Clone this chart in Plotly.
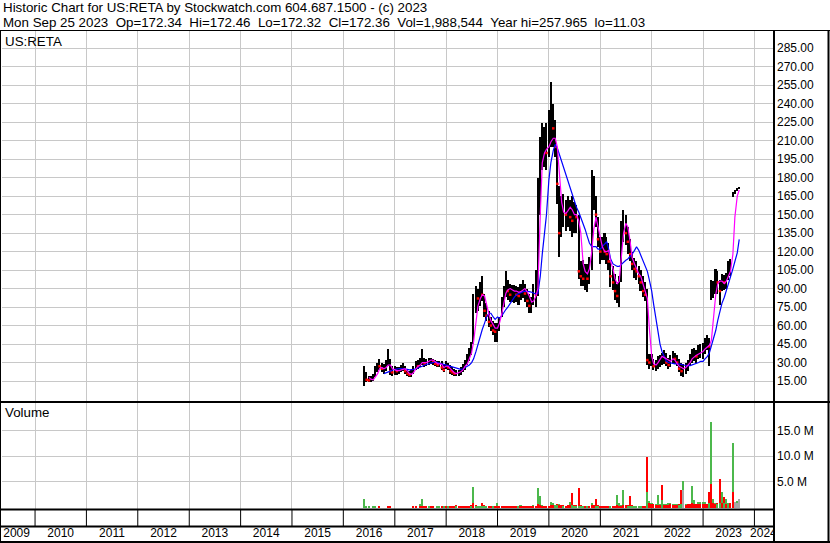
import pandas as pd
import plotly.graph_objects as go

W, H = 830, 543

# ---------------- data: semi-monthly bars (1st / 15th), Jun 2016 .. Sep 2023 ----------------
high_2016 = [27, 22, 19, 19, 21, 27, 30, 33, 30, 29, 32, 41, 33, 27]
low_2016 = [11, 14, 14, 14.5, 15, 18, 22, 24, 22, 21, 23, 27, 20, 19]
close_2016 = [17, 16, 15.5, 16, 19, 25, 28, 27, 25, 26, 30, 32, 23, 22]
maf_2016 = [None, None, 18, 16.5, 16, 18, 21, 25, 26, 25, 26, 28, 28, 25]
mas_2016 = [None, None, None, None, None, None, None, None, None, 21, 21.5, 22, 23, 24]

high_2017 = [27, 26, 26, 28, 30, 27, 25, 23, 24, 27, 31, 32, 34, 41, 34, 33, 34, 34, 33, 32, 31, 31, 31, 28]
low_2017 = [20, 20, 21, 22, 23, 21, 19, 18, 18, 21, 24, 25, 26, 28, 26, 27, 28, 29, 28, 27, 26, 26, 24, 22]
close_2017 = [24, 23, 24, 25, 26, 23, 21, 20, 22, 25, 28, 27, 31, 31, 29, 31, 31, 33, 31, 29, 28, 30, 26, 24]
maf_2017 = [24, 23.5, 23.5, 24, 25, 25, 23, 21, 20.5, 22, 25, 27, 28, 30, 30, 30, 31, 32, 32, 30.5, 29, 29, 28.5, 26]
mas_2017 = [24.5, 25, 25, 25, 25, 25, 24.5, 24, 24, 24.5, 25, 25.5, 26, 27, 28, 28.5, 29.5, 30, 30.5, 30.5, 30, 29.5, 29, 28.5]

high_2018 = [31, 30, 28, 26, 25, 24, 24, 26, 29, 32, 37, 42, 47, 86, 92, 90, 95, 100, 86, 78, 72, 67, 64, 62]
low_2018 = [25, 24, 21, 20, 19, 19, 19, 20, 22, 24, 28, 31, 36, 45, 70, 72, 76, 80, 67, 64, 59, 56, 52, 47]
close_2018 = [27, 26, 23, 22, 21, 21, 22, 24, 27, 30, 34, 39, 44, 80, 84, 82, 88, 85, 72, 68, 63, 60, 56, 55]
maf_2018 = [27, 27, 25, 23, 21.5, 21, 21.5, 22.5, 24, 27, 29, 33, 38, 47, 62, 76, 82, 85, 84, 76, 69, 64, 61, 58]
mas_2018 = [28, 27.5, 27, 26.5, 26, 25.5, 25, 24.5, 25, 26, 27, 28, 30, 33, 39, 45, 51, 57, 62, 67, 70, 70, 67, 65]

high_2019 = [62, 67, 83, 92, 104, 97, 94, 93, 93, 92, 91, 94, 97, 94, 90, 86, 83, 94, 105, 180, 213, 224, 221, 224]
low_2019 = [47, 56, 67, 75, 83, 81, 79, 79, 78, 79, 77, 81, 82, 79, 75, 70, 70, 77, 75, 84, 150, 186, 189, 186]
close_2019 = [55, 66, 78, 88, 95, 88, 85, 86, 88, 85, 84, 90, 92, 86, 80, 76, 78, 86, 85, 165, 200, 205, 210, 200]
maf_2019 = [58, 62, 70, 78, 86, 89, 90, 89, 88, 88, 87, 87.5, 89, 90, 87, 84, 79, 80, 84, 90, 150, 192, 200, 203]
mas_2019 = [67, 66, 68, 71, 73, 75, 78, 81, 83, 85, 86, 87, 87.5, 88, 88, 87.5, 87, 86, 85.5, 86, 100, 118, 133, 150]

high_2020 = [235, 258, 240, 227, 205, 173, 165, 167, 162, 165, 162, 165, 160, 158, 150, 112, 113, 110, 110, 116, 186, 181, 165, 148]
low_2020 = [197, 205, 205, 197, 159, 116, 132, 140, 137, 140, 137, 132, 135, 135, 98, 92, 92, 89, 87, 94, 105, 154, 140, 124]
close_2020 = [215, 230, 220, 205, 175, 135, 150, 155, 150, 155, 148, 145, 150, 148, 104, 100, 98, 100, 98, 110, 160, 165, 150, 130]
maf_2020 = [205, 209, 212, 212, 205, 185, 160, 152, 151, 153, 156, 154, 150, 150, 145, 135, 110, 104, 102, 106, 120, 138, 148, 140]
mas_2020 = [178, 192, 202, 207, 204, 199, 193, 187, 181, 176, 170, 165, 160, 156, 152, 148, 143, 138, 132, 127, 124, 124, 124, 122]

high_2021 = [132, 132, 135, 132, 127, 113, 108, 102, 94, 100, 145, 154, 150, 140, 130, 120, 115, 112, 108, 105, 100, 95, 90, 37]
low_2021 = [110, 113, 113, 110, 105, 91, 89, 81, 78, 75, 95, 128, 125, 118, 112, 105, 99, 97, 94, 88, 83, 80, 28, 25]
close_2021 = [120, 125, 120, 118, 112, 100, 95, 88, 84, 95, 138, 140, 135, 128, 118, 110, 106, 104, 100, 95, 88, 85, 32, 30]
maf_2021 = [132, 124, 120, 120, 121, 112, 106, 98, 94, 96, 118, 135, 143, 140, 128, 115, 110, 106, 102, 100, 94, 88, 82, 58]
mas_2021 = [122, 124, 126, 128, 122, 114, 110, 109, 108, 108, 110, 111, 113, 114, 116, 118, 121, 124, 121, 117, 112, 108, 104, 97]

high_2022 = [37, 33, 32, 35, 36, 38, 40, 38, 34, 36, 39, 38, 36, 33, 30, 29, 30, 32, 37, 41, 42, 40, 44, 45]
low_2022 = [27, 24, 23, 25, 26, 28, 29, 27, 25, 26, 29, 29, 27, 22, 19, 18, 21, 23, 27, 30, 31, 30, 33, 34]
close_2022 = [32, 27, 27, 30, 30, 33, 33, 30, 28, 32, 34, 33, 30, 25, 23, 24, 27, 28, 33, 36, 36, 35, 39, 40]
maf_2022 = [35, 29, 28, 30, 33, 35, 34, 33, 32, 31, 33, 32, 29, 27, 26, 25, 26, 28, 30, 33, 35, 36, 37, 38]
mas_2022 = [88, 77, 64, 53, 45, 39, 34, 31, 30, 29.5, 29, 29, 29, 29, 28.5, 28, 27.5, 27.5, 27.5, 28, 28.5, 29, 30, 31]

high_2023 = [46, 50, 52, 50, 97, 96, 106, 104, 97, 102, 101, 103, 112, 114, 168, 170, 172, 172.7]
low_2023 = [33, 37, 40, 27, 81, 82, 86, 86, 77, 88, 89, 90, 97, 100, 164, 167, 169, 171]
close_2023 = [40, 45, 47, 43, 88, 90, 100, 95, 88, 96, 95, 100, 108, 110, 166, 169, 171, 172.4]
maf_2023 = [39, 41, 43, 44, 48, 66, 85, 94, 96, 96, 94, 96, 100, 104, 118, 148, 165, 170]
mas_2023 = [31, 33, 35, 38, 43, 50, 56, 64, 71, 78, 83, 88, 94, 100, 106, 112, 119, 130]

# volume in millions: largest up-day, largest down-day and unchanged-day volume per period
vol_up_2016 = [1.6, 0.3, 0.2, 0, 0.2, 0.2, 0, 0, 0, 0, 0, 0, 0, 0]
vol_dn_2016 = [0, 0, 0, 0, 0, 0, 0, 0.25, 0, 0, 0, 0.3, 0.3, 0]
vol_up_2017 = [0, 0, 0, 0, 0, 0, 0, 0, 0, 0, 0, 0, 0.7, 1.7, 0, 0.3, 0.3, 0, 0, 0, 0.4, 0.3, 0.3, 0.2]
vol_dn_2017 = [0, 0, 0, 0, 0, 0, 0, 0, 0, 0.3, 0.3, 0, 0.2, 0.3, 0.4, 0.2, 0, 0.2, 0.2, 0, 0, 0.4, 0.3, 0.3]
vol_up_2018 = [0.3, 0.2, 0.3, 0.4, 0.3, 0.3, 0.3, 0.3, 0.4, 0.4, 0.3, 0.3, 0.3, 4.0, 0.3, 0.3, 0.3, 0.3, 0.3, 0.2, 0.3, 0.3, 0.3, 0.3]
vol_dn_2018 = [0.2, 0.3, 0.3, 0.2, 0.3, 0.5, 0.2, 0.3, 0.3, 0.3, 0.3, 0.3, 0.5, 1.0, 0.5, 0.4, 0.4, 0.9, 0.5, 0.4, 0.3, 0.3, 0.4, 0.3]
vol_up_2019 = [0.9, 0.3, 0.3, 0.4, 0.3, 0.4, 0.3, 0.3, 0.3, 0.3, 0.3, 0.5, 0.3, 0.3, 0.3, 0.3, 0.4, 0.5, 0.4, 3.8, 2.2, 0.5, 0.4, 0.4]
vol_dn_2019 = [0.3, 0.3, 0.3, 0.4, 0.3, 0.3, 0.3, 0.3, 0.3, 0.3, 0.4, 0.3, 0.3, 0.3, 0.3, 0.3, 0.3, 0.3, 0.3, 0.8, 0.6, 0.4, 0.3, 0.3]
vol_up_2020 = [0.4, 1.1, 1.0, 0.5, 0.6, 0.7, 0.5, 0.4, 0.4, 0.5, 1.2, 0.5, 0.4, 0.4, 0.4, 0.4, 0.3, 0.4, 0.3, 0.4, 1.0, 0.6, 0.4, 0.4]
vol_dn_2020 = [0.3, 0.6, 0.5, 0.6, 0.7, 0.6, 0.5, 0.5, 0.4, 0.5, 0.5, 2.8, 0.5, 0.5, 3.8, 0.6, 0.4, 0.3, 0.4, 0.4, 0.5, 0.6, 1.6, 0.5]
vol_up_2021 = [0.4, 0.4, 0.4, 0.4, 0.4, 0.3, 0.4, 0.4, 2.4, 0.9, 0.6, 3.4, 0.5, 0.4, 0.4, 0.4, 0.3, 0.3, 0.3, 0.3, 0.4, 0.4, 3.0, 1.3]
vol_dn_2021 = [0.3, 0.3, 0.3, 0.4, 0.4, 0.4, 0.4, 0.4, 0.5, 0.4, 0.4, 0.5, 0.5, 0.5, 2.2, 0.5, 0.4, 0.4, 0.4, 0.4, 0.4, 0.4, 9.8, 1.0]
vol_up_2022 = [1.0, 0.8, 0.7, 2.5, 0.8, 1.5, 0.7, 0.8, 0.9, 0.9, 0.8, 0.7, 0.7, 0.6, 0.8, 5.1, 0.8, 0.7, 0.8, 4.2, 1.5, 0.8, 1.2, 1.2]
vol_dn_2022 = [0.8, 0.8, 0.6, 0.6, 0.6, 4.5, 0.6, 0.6, 0.6, 0.7, 0.6, 0.6, 0.6, 0.8, 3.4, 0.8, 0.6, 0.7, 0.7, 1.0, 0.8, 0.7, 0.8, 0.8]
vol_up_2023 = [1.2, 1.2, 0.8, 0.9, 16.6, 1.7, 0.9, 0.8, 0.9, 3.1, 0.9, 1.7, 0.9, 1.0, 12.5, 0.6, 1.3, 0.5]
vol_dn_2023 = [0.8, 0.8, 0.8, 3.0, 4.6, 1.0, 0.8, 0.9, 5.6, 1.0, 2.0, 0.8, 1.0, 1.0, 3.0, 0.4, 0.5, 0.4]
vol_flat_2016_2021 = [0] * (14 + 24 * 5)
vol_flat_2022 = [0, 0, 0, 0, 0, 0, 0, 0, 0, 0, 0, 0, 0, 0, 0, 3.4, 0, 0, 0, 0, 0, 0, 0, 0]
vol_flat_2023 = [0, 0, 0, 0, 0, 0, 0, 0, 0, 0, 0, 0, 0, 0, 0, 1.2, 0.9, 1.6]

year_labels = [str(y) for y in range(2009, 2025)]
price_ticks = [15, 30, 45, 60, 75, 90, 105, 120, 135, 150, 165, 180, 195, 210, 225, 240, 255, 270, 285]
volume_ticks = [5, 10, 15]
volume_tick_text = ["5.0 M", "10.0 M", "15.0 M"]

header_1 = "Historic Chart for US:RETA by Stockwatch.com 604.687.1500 - (c) 2023"
header_2 = ("Mon Sep 25 2023  Op=172.34  Hi=172.46  Lo=172.32  Cl=172.36  "
            "Vol=1,988,544  Year hi=257.965  lo=11.03")

YEARS = ["2016", "2017", "2018", "2019", "2020", "2021", "2022", "2023"]
def cat(prefix):
    g = globals()
    return sum((g[f"{prefix}_{y}"] for y in YEARS), [])

price_high = cat("high")
price_low = cat("low")
price_close = cat("close")
ma_fast = cat("maf")
ma_slow = cat("mas")
vol_up = cat("vol_up")
vol_down = cat("vol_dn")
vol_flat = vol_flat_2016_2021 + vol_flat_2022 + vol_flat_2023

N = len(price_close)
for arr in (price_high, price_low, ma_fast, ma_slow, vol_up, vol_down, vol_flat):
    assert len(arr) == N, (len(arr), N)

dates = pd.date_range("2016-06-01", periods=N, freq="SMS")

# ---------------- figure ----------------
FONT = "Liberation Sans, Arial, sans-serif"
GRID = "#c8c8c8"
X_RANGE = ["2009-05-11", "2024-05-12"]
DAY = 86400000
FS_AXIS = 12
FS_TEXT = 13.33
FS_YEAR = 12

def px_x(p):
    return p / W

def px_y(p):
    return 1 - p / H

fig = go.Figure()

fig.add_trace(go.Bar(
    x=dates, y=[h - l for h, l in zip(price_high, price_low)], base=price_low,
    width=11 * DAY, marker=dict(color="black", line=dict(width=0)),
    xaxis="x", yaxis="y", hoverinfo="skip"))

down_x = [d for i, d in enumerate(dates) if i > 0 and price_close[i] < price_close[i - 1]]
down_c = [c for i, c in enumerate(price_close) if i > 0 and c < price_close[i - 1]]
fig.add_trace(go.Scatter(
    x=down_x, y=down_c, mode="markers",
    marker=dict(symbol="square", size=2.5, color="#ff0000", line=dict(width=0)),
    xaxis="x", yaxis="y", hoverinfo="skip"))

fig.add_trace(go.Scatter(x=dates, y=ma_slow, mode="lines", line=dict(color="#0000ff", width=1.2),
                         xaxis="x", yaxis="y", connectgaps=False, hoverinfo="skip"))
fig.add_trace(go.Scatter(x=dates, y=ma_fast, mode="lines", line=dict(color="#ff00ff", width=1.2),
                         xaxis="x", yaxis="y", connectgaps=False, hoverinfo="skip"))

GREEN, RED, GRAY = "#4cb84c", "#ff0000", "#a8a8a8"
back_y, back_c, front_y, front_c = [], [], [], []
for u, d in zip(vol_up, vol_down):
    if u >= d:
        back_y.append(u); back_c.append(GREEN); front_y.append(d); front_c.append(RED)
    else:
        back_y.append(d); back_c.append(RED); front_y.append(u); front_c.append(GREEN)
for yy, cc in ((back_y, back_c), (front_y, front_c)):
    fig.add_trace(go.Bar(x=dates, y=yy, width=11 * DAY,
                         marker=dict(color=cc, line=dict(width=0)),
                         xaxis="x2", yaxis="y2", hoverinfo="skip"))
fig.add_trace(go.Bar(x=dates, y=vol_flat, width=11 * DAY,
                     marker=dict(color=GRAY, line=dict(width=0)),
                     xaxis="x2", yaxis="y2", hoverinfo="skip"))

# year labels centred in each year, the first and last pulled inside the strip
label_x = [pd.Timestamp(f"{y}-07-02") for y in year_labels]
label_x[0] = pd.Timestamp("2009-08-23")
label_x[-1] = pd.Timestamp("2024-03-05")
fig.add_trace(go.Scatter(x=label_x, y=[0.5] * len(label_x), mode="text", text=year_labels,
                         textfont=dict(family=FONT, size=FS_YEAR, color="black"),
                         xaxis="x3", yaxis="y3", cliponaxis=True, hoverinfo="skip"))

xdom = [px_x(2), px_x(773)]
common_x = dict(type="date", range=X_RANGE, domain=xdom, showticklabels=False,
                showgrid=True, gridcolor=GRID, gridwidth=1, tick0="2010-01-01", dtick="M12",
                zeroline=False, showline=False, ticks="", fixedrange=True)

fig.update_layout(
    width=W, height=H, margin=dict(l=0, r=0, t=0, b=0),
    paper_bgcolor="white", plot_bgcolor="white", showlegend=False,
    barmode="overlay", bargap=0,
    font=dict(family=FONT, size=FS_AXIS, color="black"),
    xaxis=dict(**common_x, anchor="y"),
    xaxis2=dict(**common_x, anchor="y2"),
    xaxis3=dict(type="date", range=X_RANGE, domain=xdom, showticklabels=False, showgrid=False,
                zeroline=False, showline=False, ticks="", anchor="y3", fixedrange=True),
    yaxis=dict(domain=[px_y(401), px_y(31)], range=[-1.2, 299], side="right", anchor="x",
               tickvals=price_ticks, tickformat=".2f", showgrid=True, gridcolor=GRID,
               zeroline=False, showline=False, ticks="", ticklabelstandoff=3,
               tickfont=dict(family=FONT, size=FS_AXIS, color="black"), fixedrange=True),
    yaxis2=dict(domain=[px_y(509), px_y(403)], range=[-0.25, 20.3], side="right", anchor="x2",
                tickvals=volume_ticks, ticktext=volume_tick_text, showgrid=True, gridcolor=GRID,
                zeroline=False, showline=False, ticks="", ticklabelstandoff=3,
                tickfont=dict(family=FONT, size=FS_AXIS, color="black"), fixedrange=True),
    yaxis3=dict(domain=[px_y(541), px_y(527)], range=[0, 1], visible=False, anchor="x3",
                fixedrange=True),
)

shapes = []
def hline(py, x0, x1, w=1):
    shapes.append(dict(type="line", xref="paper", yref="paper", x0=px_x(x0), x1=px_x(x1),
                       y0=px_y(py), y1=px_y(py), line=dict(color="black", width=w)))
def vline(px, y0, y1, w=1):
    shapes.append(dict(type="line", xref="paper", yref="paper", x0=px_x(px), x1=px_x(px),
                       y0=px_y(y0), y1=px_y(y1), line=dict(color="black", width=w)))

hline(30.5, 0, 830, 1)
hline(402, 0, 830, 2)
hline(509.5, 0, 774, 2)
hline(526.5, 0, 774, 2)
hline(542, 0, 830, 2)
vline(0.5, 30, 543, 1)
vline(774, 30, 543, 2)
vline(828.5, 30, 543, 2)
for y in range(2010, 2025):
    shapes.append(dict(type="line", xref="x3", yref="paper", x0=f"{y}-01-01", x1=f"{y}-01-01",
                       y0=px_y(510), y1=px_y(526), line=dict(color="black", width=1)))
fig.update_layout(shapes=shapes)

def note(text, px, py, size=FS_TEXT):
    fig.add_annotation(text=text.replace("  ", "\u00a0\u00a0"), xref="paper", yref="paper",
                       x=px_x(px), y=px_y(py), xanchor="left", yanchor="middle",
                       showarrow=False, borderpad=0,
                       font=dict(family=FONT, size=size, color="black"))

note(header_1, 2, 7.5)
note(header_2, 2, 22)
note("US:RETA", 4, 41)
note("Volume", 4, 413)

fig.write_html("out.html", config={"displayModeBar": False},
               post_script="document.body.style.margin='0';")
